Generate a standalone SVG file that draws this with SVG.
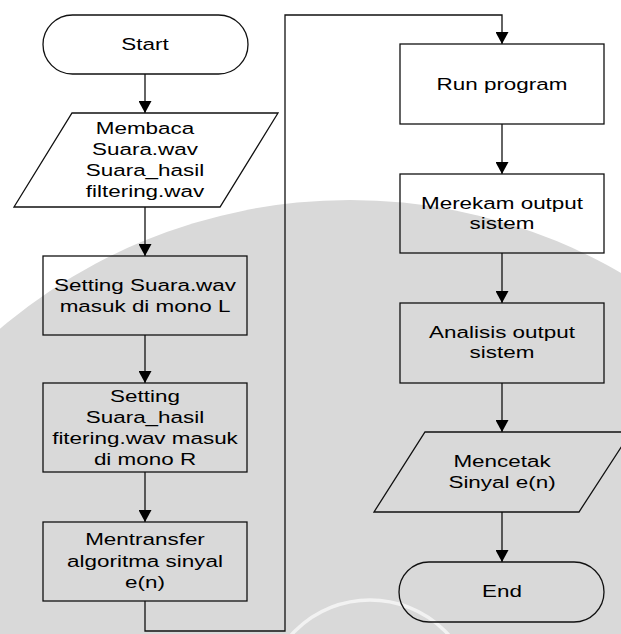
<svg xmlns="http://www.w3.org/2000/svg" width="621" height="634" viewBox="0 0 621 634">
<style>
.n{fill:none;stroke:#111;stroke-width:1.3}
.c{fill:none;stroke:#111;stroke-width:1.3}
.t{font-family:"Liberation Sans",Arial,sans-serif;font-size:17px;fill:#000;text-anchor:middle}
</style>
<defs>
<marker id="arr" viewBox="0 0 12 13" refX="12" refY="6.5" markerWidth="12" markerHeight="13" orient="auto" markerUnits="userSpaceOnUse"><path d="M0,0 L12,6.5 L0,13 z" fill="#000"/></marker>
</defs>
<g id="background">
<rect x="0" y="0" width="621" height="634" fill="#ffffff"/>
<circle cx="350" cy="740" r="540" fill="#d9d9d9"/>
<circle cx="370" cy="706" r="106" fill="none" stroke="#f2f2f2" stroke-width="3.5"/>
</g>
<g id="connectors">
<path class="c" d="M145,74 V113" marker-end="url(#arr)"/>
<path class="c" d="M145,207 V256" marker-end="url(#arr)"/>
<path class="c" d="M145,335 V383" marker-end="url(#arr)"/>
<path class="c" d="M145,472 V522" marker-end="url(#arr)"/>
<path class="c" d="M145,601 V631 H285 V15 H502 V44" marker-end="url(#arr)"/>
<path class="c" d="M502,124 V174" marker-end="url(#arr)"/>
<path class="c" d="M502,253 V303" marker-end="url(#arr)"/>
<path class="c" d="M502,383 V432" marker-end="url(#arr)"/>
<path class="c" d="M502,512 V562" marker-end="url(#arr)"/>
</g>
<g id="start">
<rect class="n" x="43" y="15" width="205" height="59" rx="29.5"/>
<text class="t" transform="translate(145 0) scale(1.32 1)"><tspan x="0" y="50">Start</tspan></text>
</g>
<g id="membaca">
<polygon class="n" points="72,113 278,113 220,207 14,207"/>
<text class="t" transform="translate(145 0) scale(1.32 1)"><tspan x="0" y="134">Membaca</tspan><tspan x="0" y="155">Suara.wav</tspan><tspan x="0" y="176">Suara_hasil</tspan><tspan x="0" y="197">filtering.wav</tspan></text>
</g>
<g id="setting-l">
<rect class="n" x="43" y="256" width="204" height="79"/>
<text class="t" transform="translate(145 0) scale(1.32 1)"><tspan x="0" y="291">Setting Suara.wav</tspan><tspan x="0" y="312">masuk di mono L</tspan></text>
</g>
<g id="setting-r">
<rect class="n" x="43" y="383" width="204" height="89"/>
<text class="t" transform="translate(145 0) scale(1.32 1)"><tspan x="0" y="402">Setting</tspan><tspan x="0" y="423">Suara_hasil</tspan><tspan x="0" y="444">fitering.wav masuk</tspan><tspan x="0" y="465">di mono R</tspan></text>
</g>
<g id="mentransfer">
<rect class="n" x="43" y="522" width="204" height="79"/>
<text class="t" transform="translate(145 0) scale(1.32 1)"><tspan x="0" y="545">Mentransfer</tspan><tspan x="0" y="567">algoritma sinyal</tspan><tspan x="0" y="588">e(n)</tspan></text>
</g>
<g id="run">
<rect class="n" x="400" y="44" width="204" height="80"/>
<text class="t" transform="translate(502 0) scale(1.32 1)"><tspan x="0" y="90">Run program</tspan></text>
</g>
<g id="merekam">
<rect class="n" x="400" y="174" width="204" height="79"/>
<text class="t" transform="translate(502 0) scale(1.32 1)"><tspan x="0" y="209">Merekam output</tspan><tspan x="0" y="229">sistem</tspan></text>
</g>
<g id="analisis">
<rect class="n" x="400" y="303" width="204" height="80"/>
<text class="t" transform="translate(502 0) scale(1.32 1)"><tspan x="0" y="338">Analisis output</tspan><tspan x="0" y="358">sistem</tspan></text>
</g>
<g id="mencetak">
<polygon class="n" points="425,432 631,432 579,512 374,512"/>
<text class="t" transform="translate(502 0) scale(1.32 1)"><tspan x="0" y="467">Mencetak</tspan><tspan x="0" y="488">Sinyal e(n)</tspan></text>
</g>
<g id="end">
<rect class="n" x="399" y="562" width="205" height="60" rx="30"/>
<text class="t" transform="translate(502 0) scale(1.32 1)"><tspan x="0" y="597">End</tspan></text>
</g>
</svg>
